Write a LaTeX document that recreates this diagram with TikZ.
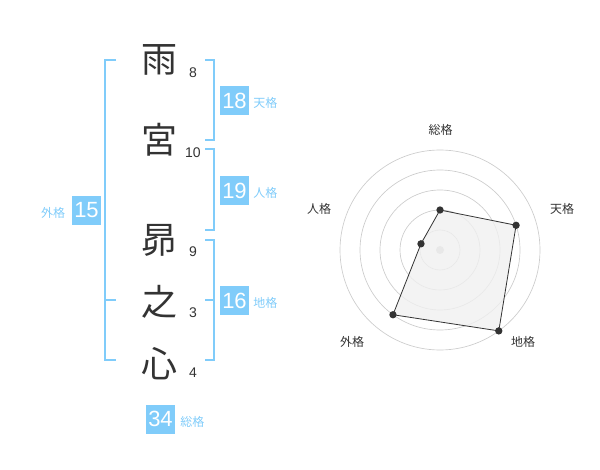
\documentclass[tikz,border=0pt]{standalone}
\usepackage{fontspec}
\usetikzlibrary{calc}
\setmainfont{Liberation Sans}
\newfontfamily\cjk{Noto Sans CJK JP}
\definecolor{kblue}{HTML}{80CCFA}
\definecolor{ktext}{HTML}{333333}
\definecolor{kgrid}{HTML}{CCCCCC}
\definecolor{kfill}{HTML}{F0F0F0}
\tikzset{
  kanji/.style={font=\cjk\fontsize{27pt}{27pt}\selectfont, text=ktext, inner sep=0pt},
  stroke/.style={font=\fontsize{10.5pt}{11pt}\selectfont, text=ktext, inner sep=0pt},
  numbox/.style={fill=kblue, text=white, minimum size=21.75pt, inner sep=0pt, font=\fontsize{16.5pt}{16.5pt}\selectfont},
  boxlabel/.style={text=kblue, font=\cjk\fontsize{9pt}{9pt}\selectfont, inner sep=0pt},
  radlabel/.style={text=ktext, font=\cjk\fontsize{9pt}{9pt}\selectfont, inner sep=0pt},
  bracket/.style={draw=kblue, line width=1.5pt},
  ring/.style={draw=kgrid, line width=0.5pt},
  dot/.style={circle, fill=ktext, inner sep=0pt, minimum size=5.5pt},
}
\begin{document}
\begin{tikzpicture}[x=0.75pt,y=-0.75pt]
\useasboundingbox (0,0) rectangle (600,470);
% characters
\node[kanji] (c1) at (159,60) {雨};
\node[kanji] (c2) at (159,140) {宮};
\node[kanji] (c3) at (159,240) {昴};
\node[kanji] (c4) at (159,302) {之};
\node[kanji] (c5) at (159,364) {心};
% stroke counts
\node[stroke] (n1) at (193,73) {8};
\node[stroke] (n2) at (193,153) {10};
\node[stroke] (n3) at (193,252) {9};
\node[stroke] (n4) at (193,313) {3};
\node[stroke] (n5) at (193,373) {4};
% brackets
\draw[bracket] (116,60) -- (105,60) -- (105,360) -- (116,360);
\draw[bracket] (105,300) -- (116,300);
\draw[bracket] (205,60) -- (214,60) -- (214,140) -- (205,140);
\draw[bracket] (205,149) -- (214,149) -- (214,230) -- (205,230);
\draw[bracket] (205,240) -- (214,240) -- (214,360) -- (205,360);
\draw[bracket] (205,300) -- (214,300);
% boxes
\node[numbox] (b18) at (234.5,100.5) {18};
\node[boxlabel, anchor=west] (l18) at (253,103) {天格};
\node[numbox] (b19) at (234.5,190.5) {19};
\node[boxlabel, anchor=west] (l19) at (253,193) {人格};
\node[numbox] (b16) at (234.5,300.5) {16};
\node[boxlabel, anchor=west] (l16) at (253,303) {地格};
\node[numbox] (b15) at (86.5,210.5) {15};
\node[boxlabel] (l15) at (53,213) {外格};
\node[numbox] (b34) at (160.5,419) {34};
\node[boxlabel, anchor=west] (l34) at (180,421.5) {総格};
% radar
\coordinate (ctr) at (440,250);
\foreach \r in {15,30,45,60,75} \draw[ring] (ctr) circle[radius=\r pt];
\fill[kgrid] (ctr) circle[radius=3pt];
\coordinate (pS) at ($(ctr)+(-90:40)$);
\coordinate (pT) at ($(ctr)+(-18:80)$);
\coordinate (pC) at ($(ctr)+(54:100)$);
\coordinate (pG) at ($(ctr)+(126:80)$);
\coordinate (pJ) at ($(ctr)+(-162:20)$);
\draw[fill=kfill, fill opacity=0.8, draw=ktext, line width=0.6pt] (pS) -- (pT) -- (pC) -- (pG) -- (pJ) -- cycle;
\foreach \p in {pS,pT,pC,pG,pJ} \node[dot] at (\p) {};
\node[radlabel] (rS) at (440.5,130) {総格};
\node[radlabel] (rT) at (562,209) {天格};
\node[radlabel] (rC) at (523,342) {地格};
\node[radlabel] (rG) at (352,342) {外格};
\node[radlabel] (rJ) at (319,209) {人格};
\end{tikzpicture}
\end{document}
